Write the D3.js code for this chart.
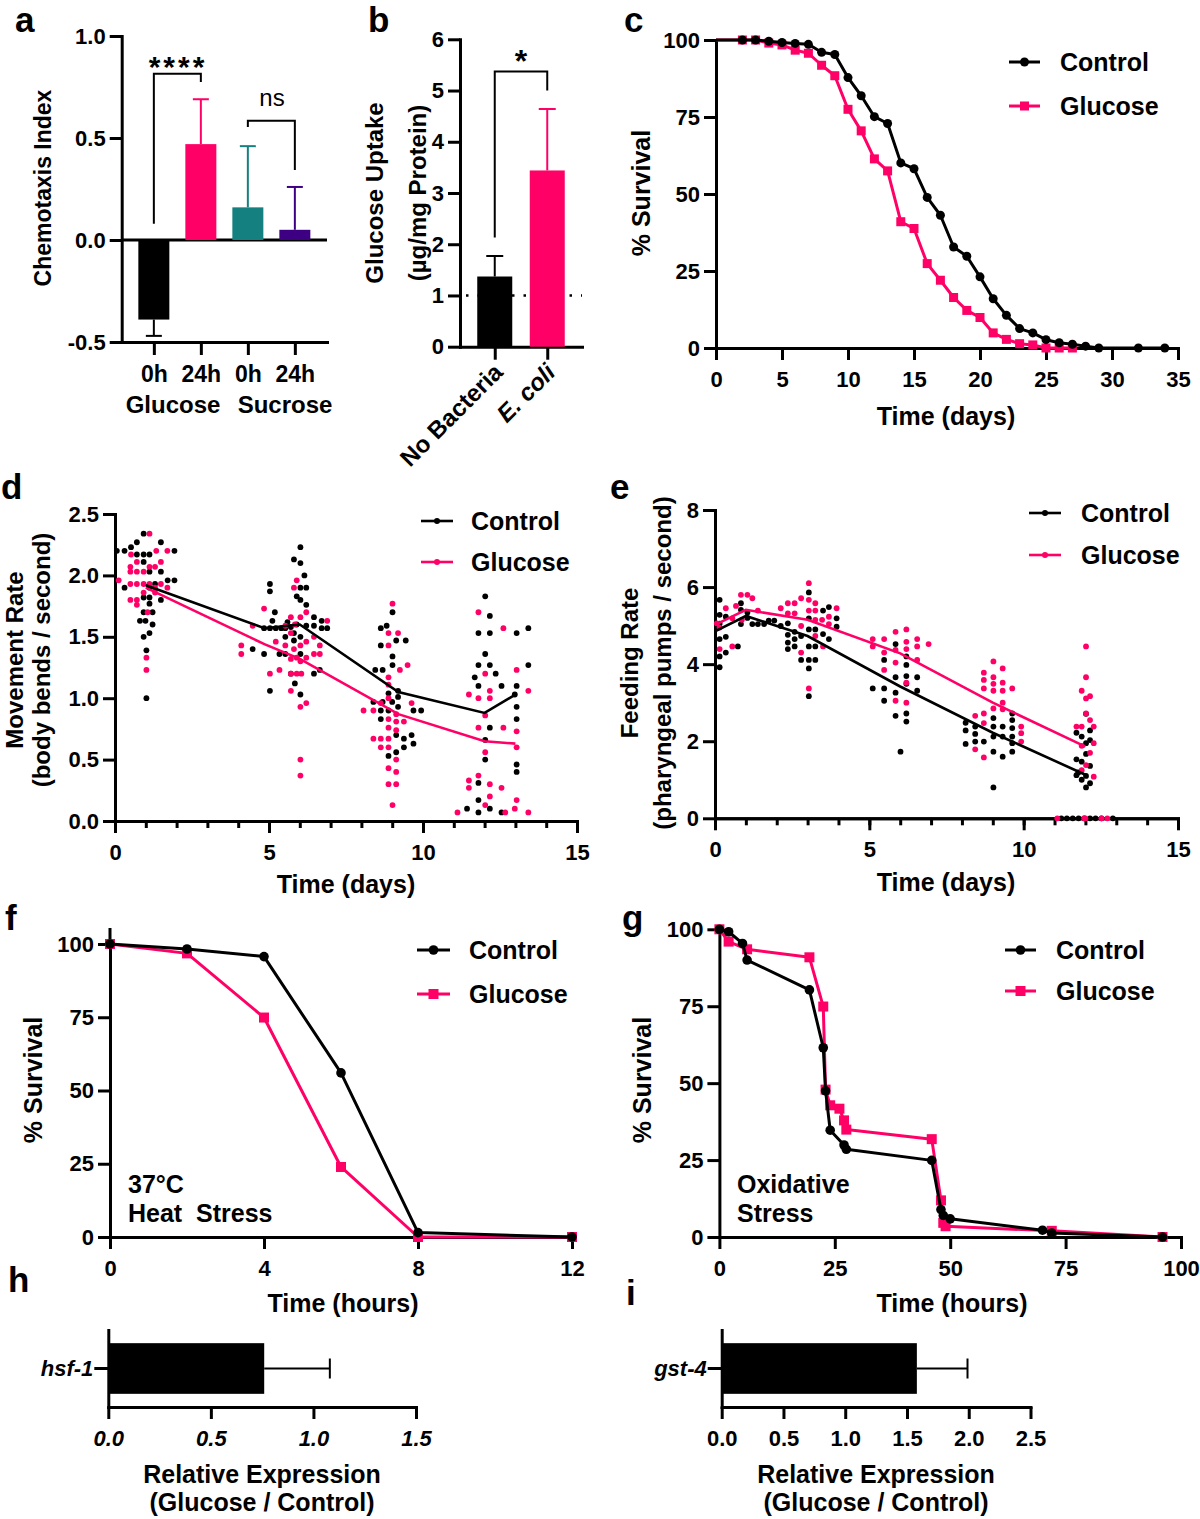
<!DOCTYPE html>
<html>
<head>
<meta charset="utf-8">
<script src="https://cdn.jsdelivr.net/npm/d3@7"></script>
<style>
  body { margin: 0; background: #fff; }
</style>
</head>
<body>
<div id="fig"></div>
<script>
var FONT = "'Liberation Sans', Arial, Helvetica, sans-serif";
var PINK = "#ff0066";

// ---------- data ----------
// a: chemotaxis index
var aCategories = ["Glucose 0h", "Glucose 24h", "Sucrose 0h", "Sucrose 24h"];
var aTickLabels = ["0h", "24h", "0h", "24h"];
var aMeans = [-0.39, 0.47, 0.16, 0.05];
var aErrors = [0.08, 0.22, 0.30, 0.21];
var aColors = ["#000000", PINK, "#158080", "#3d0082"];

// b: glucose uptake
var bCategories = ["No Bacteria", "E. coli"];
var bMeans = [1.37, 3.44];
var bErrors = [0.40, 1.20];
var bColors = ["#000000", PINK];

// c: lifespan
var cControlDays = [0, 2, 3, 4, 5, 6, 7, 8, 9, 10, 11, 12, 13, 14, 15, 16, 17, 18, 19, 20, 21, 22, 23, 24, 25, 26, 27, 28, 29, 32, 34];
var cControl = [100, 100, 100, 99.6, 99.2, 98.9, 98.6, 96.0, 95.3, 87.8, 81.9, 75.1, 72.9, 60.1, 58.2, 48.9, 43.1, 32.8, 29.8, 23.1, 16.0, 10.6, 6.3, 4.9, 2.7, 1.7, 1.2, 0.6, 0, 0, 0];
var cGlucoseDays = [0, 2, 3, 4, 5, 6, 7, 8, 9, 10, 11, 12, 13, 14, 15, 16, 17, 18, 19, 20, 21, 22, 23, 24, 25, 26, 27];
var cGlucose = [100, 100, 100, 99.0, 98.4, 96.7, 95.7, 91.8, 88.4, 77.5, 70.5, 61.4, 57.5, 41.0, 38.8, 27.4, 22.0, 16.4, 12.2, 9.9, 4.9, 2.8, 1.4, 1.0, 0, 0, 0];

// d: movement rate  [day, value]
var dMeanDays = [1, 4.85, 6, 9.2, 12, 13];
var dControlMean = [1.92, 1.57, 1.60, 1.05, 0.88, 1.03];
var dGlucoseMean = [1.90, 1.44, 1.32, 0.87, 0.65, 0.63];
var dControlDots = [
  [0.06,2.20],[0.31,2.20],[0.52,2.23],[0.71,2.27],[0.93,2.34],[1.49,2.27],[1.93,2.20],[0.71,2.17],[0.93,2.17],[1.12,2.17],
  [0.93,2.11],[1.12,2.03],[1.49,2.03],[1.71,1.96],[1.93,1.96],[1.30,1.93],[0.31,1.90],[1.12,1.90],[0.93,1.82],[1.12,1.82],
  [1.49,1.80],[1.12,1.77],[0.93,1.70],[1.22,1.70],[0.81,1.63],[0.99,1.63],[1.22,1.60],[1.12,1.53],[0.93,1.50],[1.02,1.39],[1.02,1.00],
  [4.47,1.40],[4.84,1.36],[5.03,1.93],[5.03,1.87],[5.03,1.06],[5.19,1.70],[4.84,1.57],[5.03,1.57],[5.11,1.63],[5.22,1.57],
  [5.40,1.57],[5.53,1.57],[5.34,1.36],[5.53,1.36],[5.53,1.50],[5.71,1.58],[5.81,2.13],[6.02,2.10],[6.02,2.23],[6.15,2.00],
  [5.90,1.83],[6.02,1.80],[6.02,1.90],[6.21,1.90],[6.21,1.76],[5.81,1.53],[5.81,1.47],[6.02,1.50],[6.02,1.36],[5.84,1.12],
  [6.02,1.03],[6.21,1.59],[6.46,1.66],[6.46,1.59],[6.71,1.63],[6.89,1.57],[6.71,1.57],[6.65,1.23],[6.46,1.20],[5.71,1.20],[5.90,1.60],[5.60,1.62],
  [8.63,1.57],[8.82,1.59],[9.01,1.70],[8.63,1.43],[9.13,1.47],[9.44,1.47],[9.01,1.34],[9.01,1.27],[8.45,1.23],[8.69,1.23],
  [9.19,1.06],[8.88,1.04],[9.19,1.01],[8.69,0.97],[8.39,0.97],[8.63,0.90],[8.88,0.90],[9.69,0.90],[9.94,0.90],[8.63,0.83],
  [9.13,0.70],[9.38,0.67],[9.63,0.70],[9.69,0.63],[9.38,0.60],[9.13,0.56],[8.88,0.53],[9.00,0.97],[9.19,0.93],
  [12.02,1.83],[12.17,1.67],[11.80,1.53],[12.17,1.53],[12.02,1.36],[11.80,1.27],[12.17,1.27],[11.68,1.17],[12.36,1.20],[11.80,1.10],
  [12.55,1.10],[12.17,0.76],[12.02,0.66],[12.02,0.50],[11.80,0.31],[11.80,0.17],[11.43,0.10],[11.80,0.07],[12.17,0.10],[12.55,0.07],
  [13.04,1.53],[13.42,1.57],[13.04,1.10],[12.98,1.03],[13.42,1.27],[13.04,0.93],[13.04,0.83],[13.04,0.46],[13.04,0.40]
];
var dGlucoseDots = [
  [0.12,1.96],[1.12,2.34],[1.70,2.20],[1.34,2.20],[0.52,2.17],[1.49,2.11],[0.71,2.11],[0.50,2.07],[1.12,2.07],[1.30,2.07],
  [0.50,2.03],[0.71,2.03],[0.93,2.03],[0.50,1.93],[0.71,1.93],[0.93,1.93],[1.12,1.93],[1.49,1.93],[1.30,1.90],[1.70,1.90],
  [0.93,1.86],[1.30,1.86],[0.50,1.80],[0.71,1.80],[0.71,1.76],[1.06,1.70],[1.02,1.33],[1.02,1.23],
  [4.10,1.43],[4.10,1.36],[4.47,1.59],[4.84,1.73],[5.03,1.20],[5.22,1.46],[5.34,1.23],[5.53,1.59],[5.53,1.43],[5.81,1.90],
  [5.90,1.96],[5.71,1.32],[5.71,1.20],[5.90,1.20],[6.05,1.20],[5.71,1.06],[6.21,0.96],[6.02,0.93],[6.02,0.50],[6.02,0.37],
  [5.81,1.40],[5.90,1.33],[6.02,1.30],[6.02,1.43],[6.21,1.46],[6.21,1.33],[6.46,1.50],[6.65,1.43],[6.65,1.36],[6.46,1.36],
  [6.89,1.63],[5.71,1.53],[5.71,1.66],[5.84,1.60],[6.02,1.66],[6.21,1.70],
  [9.01,1.77],[8.88,1.53],[9.19,1.53],[8.88,1.43],[9.50,1.27],[9.25,1.23],[8.88,1.17],[8.88,1.11],[8.07,0.90],[8.39,0.90],
  [8.63,0.96],[9.63,0.96],[8.88,0.83],[9.13,0.87],[9.13,0.81],[9.38,0.81],[8.39,0.67],[8.63,0.67],[8.88,0.67],[8.63,0.60],
  [8.88,0.60],[8.88,0.76],[9.13,0.74],[9.13,0.50],[8.88,0.43],[9.13,0.40],[8.88,0.30],[9.13,0.30],[9.01,0.13],[8.88,1.00],
  [11.80,1.70],[12.02,1.20],[11.49,1.03],[11.80,1.00],[12.17,1.06],[12.17,1.00],[12.02,0.86],[11.80,0.76],[12.02,0.56],[11.49,0.33],
  [11.49,0.27],[11.80,0.37],[12.17,0.30],[12.55,0.27],[12.17,0.20],[11.12,0.07],[12.02,0.13],[12.61,0.76],[12.61,1.57],
  [13.04,1.23],[13.42,1.06],[13.04,0.73],[13.04,0.60],[13.04,0.17],[12.98,0.10],[13.42,0.07],[12.67,0.07]
];

// e: feeding rate  [day, value]
var eMeanDays = [0, 1, 3, 6, 9, 12];
var eControlMean = [4.85, 5.25, 4.73, 3.42, 2.22, 1.13];
var eGlucoseMean = [5.02, 5.41, 5.15, 4.28, 3.00, 1.86];
var eControlDots = [
  [0.15,5.67],[0.15,5.28],[0.15,4.20],[0.15,3.92],[0.15,4.65],[0.35,5.23],[0.35,4.71],[0.35,4.30],[0.74,4.46],[0.84,5.58],
  [0.84,5.41],[0.84,5.04],[1.05,5.34],[1.21,5.04],[1.39,5.04],[1.59,5.04],[1.74,5.13],[1.92,5.13],[0.15,5.05],[1.05,5.20],
  [2.13,4.99],[2.36,5.06],[2.36,4.76],[2.36,4.56],[2.36,4.39],[2.58,4.84],[2.58,4.65],[2.58,4.46],[2.79,4.73],[2.79,4.11],
  [3.04,5.86],[3.04,5.19],[3.04,4.90],[3.04,4.46],[3.04,4.11],[3.04,3.89],[3.04,3.17],[3.25,4.90],[3.25,4.46],[3.25,4.11],
  [3.50,5.39],[3.50,4.78],[3.69,5.48],[3.69,4.65],[3.94,5.19],[3.94,4.97],
  [5.11,3.37],[5.48,4.11],[5.48,3.37],[5.48,3.05],[5.85,4.52],[5.85,3.66],[5.85,3.26],[5.85,2.66],[6.01,1.73],[6.20,4.20],
  [6.20,3.98],[6.20,3.69],[6.20,3.49],[6.20,2.72],[6.20,2.51],[6.55,3.66],[6.55,3.31],
  [8.12,2.48],[8.12,2.28],[8.12,1.93],[8.43,2.38],[8.43,2.19],[8.43,1.99],[8.71,1.99],[9.02,2.60],[9.02,2.38],[9.02,2.12],
  [9.02,1.73],[9.02,0.80],[9.32,2.38],[9.32,2.12],[9.32,1.60],[9.63,2.72],[9.63,2.55],[9.63,2.34],[9.63,2.12],[9.63,1.95],[9.63,1.73],
  [12.02,2.71],[11.71,2.22],[12.15,2.28],[11.88,2.12],[12.02,1.95],[12.15,2.03],[11.71,1.53],[11.88,1.47],[12.02,1.67],[12.15,1.36],
  [11.77,1.19],[11.88,1.00],[12.02,0.80],[12.15,0.91],[11.71,1.12],[12.02,1.10],
  [11.22,0],[11.40,0],[11.59,0],[11.78,0],[12.15,0],[12.33,0],[12.52,0],[12.89,0],[11.96,0]
];
var eGlucoseDots = [
  [0.06,5.06],[0.15,4.39],[0.35,5.45],[0.56,4.46],[0.68,5.51],[0.84,5.80],[1.05,5.80],[1.21,5.71],[1.39,5.39],[0.56,5.19],[0.87,5.15],[0.15,4.95],
  [2.13,5.45],[2.36,5.32],[2.36,5.58],[2.58,5.32],[2.58,5.58],[2.79,5.71],[2.79,4.99],[2.79,4.30],[3.04,6.10],[3.04,5.67],
  [3.04,5.39],[3.04,3.37],[3.25,5.58],[3.25,5.39],[3.25,5.15],[3.25,4.73],[3.47,5.15],[3.50,4.46],[3.69,5.23],[3.69,5.04],[3.94,5.45],
  [5.11,4.65],[5.11,4.46],[5.48,4.65],[5.48,4.30],[5.48,3.85],[5.85,4.84],[5.85,4.37],[5.85,4.04],[5.85,3.05],[6.20,4.90],
  [6.20,4.58],[6.20,4.39],[6.20,3.52],[6.20,3.00],[6.55,4.65],[6.55,4.46],[6.55,4.11],[6.92,4.52],
  [8.43,2.66],[8.43,1.79],[8.71,3.78],[8.71,3.59],[8.71,3.37],[8.71,2.72],[8.71,2.47],[8.71,1.58],[9.02,4.07],[9.02,3.66],
  [9.02,3.49],[9.02,3.31],[9.02,2.85],[9.32,3.89],[9.32,3.52],[9.32,3.31],[9.32,3.00],[9.32,2.83],[9.63,3.37],[9.92,2.38],[9.92,2.21],[9.92,1.99],
  [12.02,4.46],[12.02,3.66],[11.88,3.31],[12.15,3.17],[12.02,3.11],[11.71,2.38],[11.88,2.38],[12.27,2.38],[12.27,1.95],[11.88,1.88],
  [12.15,1.70],[12.02,1.38],[12.27,1.08],[11.88,1.25],[12.15,2.55],[12.02,2.72],
  [11.09,0],[11.96,0],[12.52,0],[12.71,0],[12.00,0]
];

// f: heat stress survival
var fHours = [0, 2, 4, 6, 8, 12];
var fControl = [100, 98.3, 95.7, 56.0, 1.5, 0];
var fGlucose = [100, 96.8, 74.9, 23.9, 0, 0];

// g: oxidative stress survival
var gControlHours = [0, 2, 5, 6, 19.5, 22.5, 23, 24, 27, 27.5, 46, 48, 48.5, 50, 70, 72, 96];
var gControl = [100, 99.2, 95.4, 90.0, 80.3, 61.5, 47.5, 34.7, 29.9, 28.5, 24.9, 8.9, 7.0, 5.9, 2.2, 1.3, 0];
var gGlucoseHours = [0, 2, 6, 19.5, 22.5, 23, 24, 26, 27, 27.5, 46, 48, 48.5, 49, 72, 96];
var gGlucose = [100, 96.0, 93.5, 90.9, 74.9, 47.9, 42.8, 41.7, 37.9, 34.9, 31.8, 11.9, 4.6, 3.5, 2.0, 0];

// h, i: relative expression
var hGenes = ["hsf-1"];
var hMeans = [0.76];
var hErrors = [0.32];
var iGenes = ["gst-4"];
var iMeans = [1.58];
var iErrors = [0.41];

// ---------- helpers ----------
var svg = d3.select("#fig").append("svg")
  .attr("width", 1200).attr("height", 1519)
  .attr("font-family", FONT).attr("font-weight", "bold");

// plain hyphen for negatives, like the original figure
var fmt1 = function(d) { return d.toFixed(1); };
var fmt0 = function(d) { return d.toFixed(0); };

function styleAxis(ax, fs) {
  ax.attr("font-family", FONT).attr("font-size", fs || 22).attr("font-weight", "bold");
  ax.select(".domain").attr("stroke", "#000").attr("stroke-width", 3).attr("stroke-linecap", "square");
  ax.selectAll(".tick line").attr("stroke", "#000").attr("stroke-width", 3);
  ax.selectAll(".tick text").attr("fill", "#000");
}

function leftAxis(scale, x, ticks, fmt) {
  var ax = svg.append("g").attr("transform", "translate(" + x + ",0)")
    .call(d3.axisLeft(scale).tickValues(ticks).tickFormat(fmt).tickSize(12).tickSizeOuter(0).tickPadding(4));
  styleAxis(ax);
  return ax;
}

function bottomAxis(scale, y, ticks, fmt, size) {
  var ax = svg.append("g").attr("transform", "translate(0," + y + ")")
    .call(d3.axisBottom(scale).tickValues(ticks).tickFormat(fmt).tickSize(size || 12).tickSizeOuter(0).tickPadding(11));
  styleAxis(ax);
  return ax;
}

function label(text, x, y, size, opts) {
  var t = svg.append("text").attr("x", x).attr("y", y).attr("font-size", size)
    .attr("text-anchor", (opts && opts.anchor) || "middle").text(text);
  if (opts && opts.rotate) t.attr("transform", "rotate(-90," + x + "," + y + ")");
  if (opts && opts.italic) t.attr("font-style", "italic");
  if (opts && opts.weight) t.attr("font-weight", opts.weight);
  return t;
}

function marker(g, shape, cx, cy, color, size) {
  if (shape == "square") {
    g.append("rect").attr("x", cx - size / 2).attr("y", cy - size / 2)
      .attr("width", size).attr("height", size).attr("fill", color);
  } else {
    g.append("circle").attr("cx", cx).attr("cy", cy).attr("r", size).attr("fill", color);
  }
}

function legendItem(x1, x2, y, textX, text, color, shape, size, lw) {
  var g = svg.append("g");
  g.append("line").attr("x1", x1).attr("x2", x2).attr("y1", y).attr("y2", y)
    .attr("stroke", color).attr("stroke-width", lw || 3);
  marker(g, shape, (x1 + x2) / 2, y, color, size);
  g.append("text").attr("x", textX).attr("y", y).attr("dy", "0.35em")
    .attr("font-size", 25).text(text);
}

function survivalSeries(x, y, xs, ys, color, shape, size, skipFirst) {
  var pts = xs.map(function(d, i) { return [d, ys[i]]; });
  var line = d3.line().x(function(d) { return x(d[0]); }).y(function(d) { return y(d[1]); });
  svg.append("path").datum(pts).attr("d", line).attr("fill", "none")
    .attr("stroke", color).attr("stroke-width", 3).attr("stroke-linejoin", "round");
  var g = svg.append("g");
  pts.forEach(function(d, i) {
    if (skipFirst && i == 0) return;
    marker(g, shape, x(d[0]), y(d[1]), color, size);
  });
}

// panel letters
[["a", 15, 32], ["b", 368, 32], ["c", 624, 32], ["d", 1, 499], ["e", 610, 499],
 ["f", 5, 930], ["g", 622, 930], ["h", 8, 1292], ["i", 626, 1305]].forEach(function(p) {
  label(p[0], p[1], p[2], 35, { anchor: "start" });
});

// ---------- a ----------
var ay = d3.scaleLinear().domain([-0.5, 1.0]).range([342, 36]);
var ax = d3.scalePoint().domain(aCategories).range([121.7, 327]).padding(0.684);
leftAxis(ay, 121.7, [-0.5, 0, 0.5, 1.0], fmt1);
bottomAxis(ax, ay(-0.5), aCategories, function(d, i) { return aTickLabels[i]; }, 13)
  .attr("font-size", 23);
svg.append("line").attr("x1", 121.7).attr("x2", 327).attr("y1", ay(0)).attr("y2", ay(0))
  .attr("stroke", "#000").attr("stroke-width", 3);
svg.selectAll(".abar").data(aCategories).enter().append("rect")
  .attr("x", function(d) { return ax(d) - 15.5; })
  .attr("width", 31)
  .attr("y", function(d, i) { return ay(Math.max(0, aMeans[i])); })
  .attr("height", function(d, i) { return Math.abs(ay(aMeans[i]) - ay(0)); })
  .attr("fill", function(d, i) { return aColors[i]; });
aCategories.forEach(function(c, i) {
  var v = aMeans[i], e = v < 0 ? v - aErrors[i] : v + aErrors[i];
  svg.append("line").attr("x1", ax(c)).attr("x2", ax(c)).attr("y1", ay(v)).attr("y2", ay(e))
    .attr("stroke", aColors[i]).attr("stroke-width", 2);
  svg.append("line").attr("x1", ax(c) - 8).attr("x2", ax(c) + 8).attr("y1", ay(e)).attr("y2", ay(e))
    .attr("stroke", aColors[i]).attr("stroke-width", 2);
});
// significance brackets
function bracket(xa, xb, yTop, yA, yB) {
  svg.append("path").attr("d", "M" + xa + "," + yA + "V" + yTop + "H" + xb + "V" + yB)
    .attr("fill", "none").attr("stroke", "#000").attr("stroke-width", 2);
}
bracket(ax(aCategories[0]), ax(aCategories[1]), ay(0.815), ay(0.08), ay(0.775));
label("****", 178, 77, 30).attr("letter-spacing", 3);
bracket(ax(aCategories[2]), ax(aCategories[3]), ay(0.585), ay(0.554), ay(0.343));
label("ns", 272, 106, 24, { weight: "normal" });
label("Glucose", 173, 413, 24);
label("Sucrose", 285, 413, 24);
label("Chemotaxis Index", 51, 188, 23, { rotate: true });

// ---------- b ----------
var by = d3.scaleLinear().domain([0, 6]).range([346.7, 39.3]);
var bx = d3.scalePoint().domain(bCategories).range([460, 582]).padding(0.662);
leftAxis(by, 460, [0, 1, 2, 3, 4, 5, 6], fmt0);
var bAx = bottomAxis(bx, by(0), bCategories, null, 13);
bAx.selectAll(".tick text")
  .attr("y", 0).attr("dy", 0)
  .attr("text-anchor", "end")
  .attr("font-size", 24)
  .attr("transform", "translate(9,27) rotate(-45)")
  .attr("font-style", function(d) { return d == "E. coli" ? "italic" : "normal"; });
svg.append("line").attr("x1", 466).attr("x2", 582).attr("y1", by(1)).attr("y2", by(1))
  .attr("stroke", "#000").attr("stroke-width", 2.5).attr("stroke-dasharray", "2.5,9");
bCategories.forEach(function(c, i) {
  svg.append("rect").attr("x", bx(c) - 17.5).attr("width", 35)
    .attr("y", by(bMeans[i])).attr("height", by(0) - by(bMeans[i])).attr("fill", bColors[i]);
  var e = bMeans[i] + bErrors[i];
  svg.append("line").attr("x1", bx(c)).attr("x2", bx(c)).attr("y1", by(bMeans[i])).attr("y2", by(e))
    .attr("stroke", bColors[i]).attr("stroke-width", 2);
  svg.append("line").attr("x1", bx(c) - 8.5).attr("x2", bx(c) + 8.5).attr("y1", by(e)).attr("y2", by(e))
    .attr("stroke", bColors[i]).attr("stroke-width", 2);
});
bracket(bx(bCategories[0]), bx(bCategories[1]), by(5.37), by(2.13), by(5.0));
label("*", 521, 72, 32);
label("Glucose Uptake", 383, 193, 24, { rotate: true });
label("(\u00b5g/mg Protein)", 426, 193, 24, { rotate: true });

// ---------- c ----------
var cx = d3.scaleLinear().domain([0, 35]).range([716, 1178]);
var cy = d3.scaleLinear().domain([0, 100]).range([348, 40]);
leftAxis(cy, 716, [0, 25, 50, 75, 100], fmt0);
bottomAxis(cx, 348, d3.range(0, 36, 5), fmt0);
survivalSeries(cx, cy, cGlucoseDays, cGlucose, PINK, "square", 9, true);
survivalSeries(cx, cy, cControlDays, cControl, "#000", "circle", 4.5, true);
legendItem(1009, 1040, 62, 1060, "Control", "#000", "circle", 4.5);
legendItem(1009, 1040, 106, 1060, "Glucose", PINK, "square", 9);
label("% Survival", 650, 193, 25, { rotate: true });
label("Time (days)", 946, 425, 25);

// ---------- d, e: scatter with mean lines ----------
function scatterPanel(x, y, ctrlDots, glucDots, days, ctrlMean, glucMean) {
  var g = svg.append("g");
  g.selectAll(".c").data(ctrlDots).enter().append("circle")
    .attr("cx", function(d) { return x(d[0]); }).attr("cy", function(d) { return y(d[1]); })
    .attr("r", 2.9).attr("fill", "#000");
  g.selectAll(".g").data(glucDots).enter().append("circle")
    .attr("cx", function(d) { return x(d[0]); }).attr("cy", function(d) { return y(d[1]); })
    .attr("r", 2.9).attr("fill", PINK);
  var line = d3.line().x(function(d) { return x(d[0]); }).y(function(d) { return y(d[1]); });
  g.append("path").datum(days.map(function(d, i) { return [d, glucMean[i]]; }))
    .attr("d", line).attr("fill", "none").attr("stroke", PINK).attr("stroke-width", 2.6);
  g.append("path").datum(days.map(function(d, i) { return [d, ctrlMean[i]]; }))
    .attr("d", line).attr("fill", "none").attr("stroke", "#000").attr("stroke-width", 2.6);
}
function dayAxis(x, y0) {
  bottomAxis(x, y0, d3.range(0, 16), function() { return ""; }, 7);
  bottomAxis(x, y0, [0, 5, 10, 15], fmt0);
}

var dx = d3.scaleLinear().domain([0, 15]).range([115, 577]);
var dy = d3.scaleLinear().domain([0, 2.5]).range([821, 514]);
leftAxis(dy, 115, [0, 0.5, 1.0, 1.5, 2.0, 2.5], fmt1);
dayAxis(dx, 821);
scatterPanel(dx, dy, dControlDots, dGlucoseDots, dMeanDays, dControlMean, dGlucoseMean);
legendItem(421, 453, 521, 471, "Control", "#000", "circle", 3, 2.6);
legendItem(421, 453, 562, 471, "Glucose", PINK, "circle", 3, 2.6);
label("Movement Rate", 23, 660, 24, { rotate: true });
label("(body bends / second)", 50, 660, 24, { rotate: true });
label("Time (days)", 346, 893, 25);

var ex = d3.scaleLinear().domain([0, 15]).range([715, 1178]);
var ey = d3.scaleLinear().domain([0, 8]).range([818.3, 510]);
leftAxis(ey, 715, [0, 2, 4, 6, 8], fmt0);
dayAxis(ex, 818.3);
scatterPanel(ex, ey, eControlDots, eGlucoseDots, eMeanDays, eControlMean, eGlucoseMean);
legendItem(1029, 1061, 513, 1081, "Control", "#000", "circle", 3, 2.6);
legendItem(1029, 1061, 555, 1081, "Glucose", PINK, "circle", 3, 2.6);
label("Feeding Rate", 638, 663, 24, { rotate: true });
label("(pharyngeal pumps / second)", 671, 663, 24, { rotate: true });
label("Time (days)", 946, 891, 25);

// ---------- f ----------
var fx = d3.scaleLinear().domain([0, 12]).range([110, 572]);
var fy = d3.scaleLinear().domain([0, 100]).range([1237, 944]);
leftAxis(fy, 110, [0, 25, 50, 75, 100], fmt0);
svg.append("line").attr("x1", 110).attr("x2", 110).attr("y1", fy(100)).attr("y2", 928)
  .attr("stroke", "#000").attr("stroke-width", 3);
bottomAxis(fx, 1237, [0, 4, 8, 12], fmt0);
survivalSeries(fx, fy, fHours, fGlucose, PINK, "square", 10);
survivalSeries(fx, fy, fHours, fControl, "#000", "circle", 4.8);
legendItem(417, 450, 950, 469, "Control", "#000", "circle", 4.8);
legendItem(417, 450, 994, 469, "Glucose", PINK, "square", 10);
label("% Survival", 42, 1080, 25, { rotate: true });
label("37\u00b0C", 128, 1193, 25, { anchor: "start" });
label("Heat\u00a0 Stress", 128, 1222, 25, { anchor: "start" });
label("Time (hours)", 343, 1312, 25);

// ---------- g ----------
var gx = d3.scaleLinear().domain([0, 100]).range([719.4, 1181]);
var gy = d3.scaleLinear().domain([0, 100]).range([1237, 929.3]);
leftAxis(gy, 719.4, [0, 25, 50, 75, 100], fmt0);
bottomAxis(gx, 1237, [0, 25, 50, 75, 100], fmt0);
survivalSeries(gx, gy, gGlucoseHours, gGlucose, PINK, "square", 10);
survivalSeries(gx, gy, gControlHours, gControl, "#000", "circle", 4.8);
legendItem(1005, 1036, 950, 1056, "Control", "#000", "circle", 4.8);
legendItem(1005, 1036, 991, 1056, "Glucose", PINK, "square", 10);
label("% Survival", 651, 1080, 25, { rotate: true });
label("Oxidative", 737, 1193, 25, { anchor: "start" });
label("Stress", 737, 1222, 25, { anchor: "start" });
label("Time (hours)", 952, 1312, 25);

// ---------- h, i: horizontal bars ----------
function expressionPanel(genes, means, errors, x0, x1, domainMax, ticks, italicTicks, cx) {
  var x = d3.scaleLinear().domain([0, domainMax]).range([x0, x1]);
  var y = d3.scaleBand().domain(genes).range([1330, 1407]).paddingInner(0).paddingOuter(0.26);
  var bAxis = bottomAxis(x, 1407, ticks, fmt1);
  if (italicTicks) bAxis.selectAll(".tick text").attr("font-style", "italic");
  var lAxis = svg.append("g").attr("transform", "translate(" + x0 + ",0)")
    .call(d3.axisLeft(y).tickSize(14).tickSizeOuter(0).tickPadding(1));
  styleAxis(lAxis, 22);
  lAxis.selectAll(".tick text").attr("font-style", "italic");
  genes.forEach(function(gn, i) {
    var yc = y(gn) + y.bandwidth() / 2;
    svg.append("rect").attr("x", x(0)).attr("y", y(gn)).attr("width", x(means[i]) - x(0))
      .attr("height", y.bandwidth()).attr("fill", "#000");
    svg.append("line").attr("x1", x(means[i])).attr("x2", x(means[i] + errors[i]))
      .attr("y1", yc).attr("y2", yc).attr("stroke", "#000").attr("stroke-width", 2);
    svg.append("line").attr("x1", x(means[i] + errors[i])).attr("x2", x(means[i] + errors[i]))
      .attr("y1", yc - 10).attr("y2", yc + 10).attr("stroke", "#000").attr("stroke-width", 2);
  });
  label("Relative Expression", cx, 1483, 25);
  label("(Glucose / Control)", cx, 1511, 25);
}
expressionPanel(hGenes, hMeans, hErrors, 108.3, 416, 1.5, [0, 0.5, 1.0, 1.5], true, 262);
expressionPanel(iGenes, iMeans, iErrors, 721.7, 1030.5, 2.5, [0, 0.5, 1.0, 1.5, 2.0, 2.5], false, 876);
</script>
</body>
</html>
